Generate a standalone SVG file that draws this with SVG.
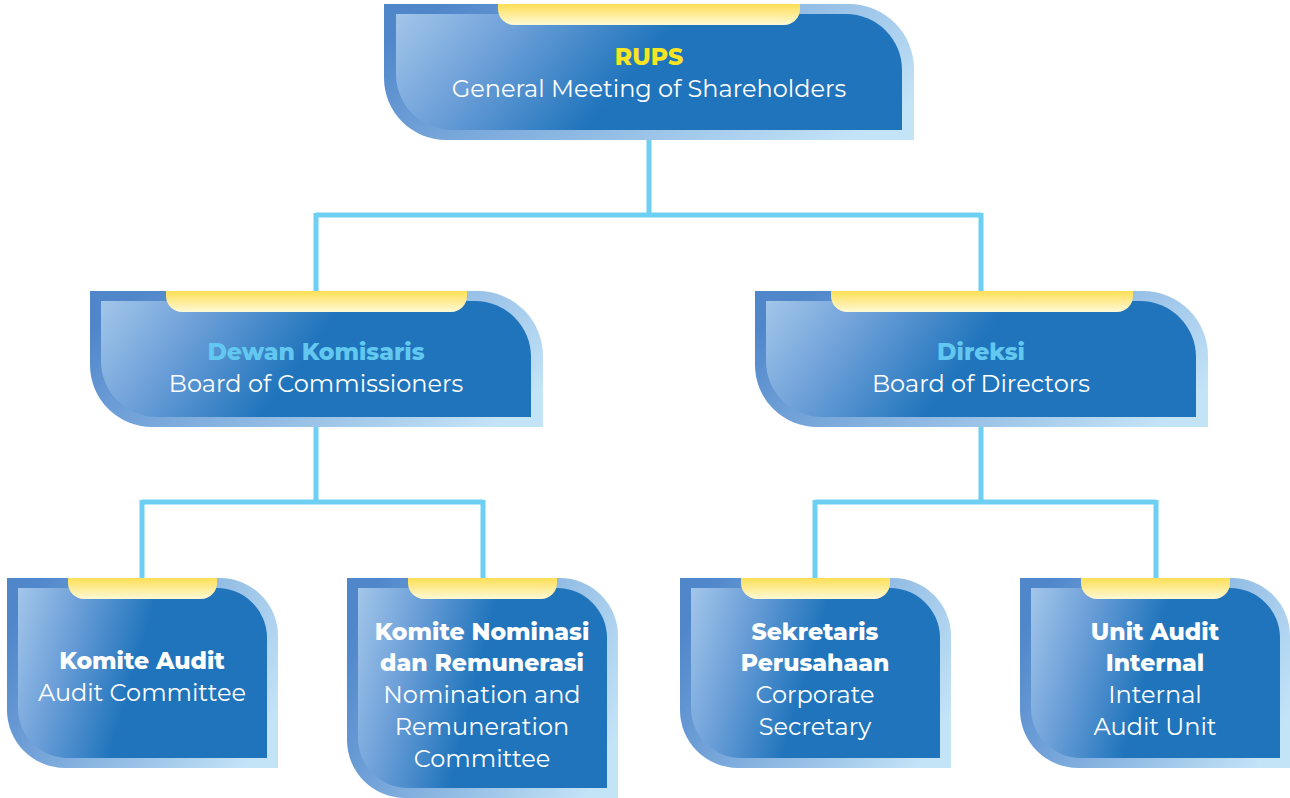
<svg xmlns="http://www.w3.org/2000/svg" width="1290" height="798" viewBox="0 0 1290 798">
<defs>
<linearGradient id="gOuter" x1="0" y1="0.3" x2="1" y2="0.7">
<stop offset="0" stop-color="#5087cb"/>
<stop offset="1" stop-color="#c3e3f7"/>
</linearGradient>
<linearGradient id="gInner" x1="0" y1="0" x2="1" y2="0.2">
<stop offset="0" stop-color="#a3c6ea"/>
<stop offset="0.25" stop-color="#6c9fd8"/>
<stop offset="0.55" stop-color="#1f74bc"/>
<stop offset="1" stop-color="#1f74bc"/>
</linearGradient>
<linearGradient id="gTab" x1="0" y1="0" x2="0" y2="1">
<stop offset="0" stop-color="#fddf55"/>
<stop offset="1" stop-color="#fef9d6"/>
</linearGradient>
</defs>
<style>
.outer{fill:url(#gOuter)}
.inner{fill:url(#gInner)}
.tab{fill:url(#gTab)}
.conn{fill:none;stroke:#6dd0f3;stroke-width:5}
text{font-family:Montserrat,"Noto Sans","Open Sans",sans-serif;text-anchor:middle;fill:#ffffff}
.t{font-weight:800;font-size:23.5px}
.s{font-weight:400;font-size:24px}
.y{fill:#f7e422}
.c{fill:#62c8f0}
</style>
<g id="connectors">
<path class="conn" d="M649,140 V215 M316,215 H981 M316,213 V291 M981,213 V291"/>
<path class="conn" d="M316,427 V502 M142,502 H483 M142,500 V578 M483,500 V578"/>
<path class="conn" d="M981,427 V502 M815,502 H1156 M815,500 V578 M1156,500 V578"/>
</g>
<g id="rups">
<path class="outer" d="M384,4 H849 A65,65 0 0 1 914,69 V140 H446 A62,62 0 0 1 384,78 Z"/>
<path class="inner" d="M396,14 H846 A56,56 0 0 1 902,70 V130 H452 A56,56 0 0 1 396,74 Z"/>
<path class="tab" d="M498,4 H800 V9 A16,16 0 0 1 784,25 H514 A16,16 0 0 1 498,9 Z"/>
<text class="t y" x="649" y="65">RUPS</text>
<text class="s" x="649" y="97">General Meeting of Shareholders</text>
</g>
<g id="dewan-komisaris">
<path class="outer" d="M90,291 H478 A65,65 0 0 1 543,356 V427 H152 A62,62 0 0 1 90,365 Z"/>
<path class="inner" d="M101,301 H475 A56,56 0 0 1 531,357 V417 H157 A56,56 0 0 1 101,361 Z"/>
<path class="tab" d="M166,291 H467 V296 A16,16 0 0 1 451,312 H182 A16,16 0 0 1 166,296 Z"/>
<text class="t c" x="316" y="360">Dewan Komisaris</text>
<text class="s" x="316" y="392">Board of Commissioners</text>
</g>
<g id="direksi">
<path class="outer" d="M755,291 H1143 A65,65 0 0 1 1208,356 V427 H817 A62,62 0 0 1 755,365 Z"/>
<path class="inner" d="M766,301 H1140 A56,56 0 0 1 1196,357 V417 H822 A56,56 0 0 1 766,361 Z"/>
<path class="tab" d="M831,291 H1133 V296 A16,16 0 0 1 1117,312 H847 A16,16 0 0 1 831,296 Z"/>
<text class="t c" x="981" y="360">Direksi</text>
<text class="s" x="981" y="392">Board of Directors</text>
</g>
<g id="komite-audit">
<path class="outer" d="M7,578 H220 A58,58 0 0 1 278,636 V768 H65 A58,58 0 0 1 7,710 Z"/>
<path class="inner" d="M18,588 H217 A50,50 0 0 1 267,638 V758 H68 A50,50 0 0 1 18,708 Z"/>
<path class="tab" d="M68,578 H217 V583 A16,16 0 0 1 201,599 H84 A16,16 0 0 1 68,583 Z"/>
<text class="t" x="142" y="669">Komite Audit</text>
<text class="s" x="142" y="701">Audit Committee</text>
</g>
<g id="komite-nominasi">
<path class="outer" d="M347,578 H560 A58,58 0 0 1 618,636 V798 H405 A58,58 0 0 1 347,740 Z"/>
<path class="inner" d="M358,588 H557 A50,50 0 0 1 607,638 V788 H408 A50,50 0 0 1 358,738 Z"/>
<path class="tab" d="M408,578 H557 V583 A16,16 0 0 1 541,599 H424 A16,16 0 0 1 408,583 Z"/>
<text class="t" x="482" y="640">Komite Nominasi</text>
<text class="t" x="482" y="671">dan Remunerasi</text>
<text class="s" x="482" y="703">Nomination and</text>
<text class="s" x="482" y="735">Remuneration</text>
<text class="s" x="482" y="767">Committee</text>
</g>
<g id="sekretaris">
<path class="outer" d="M680,578 H893 A58,58 0 0 1 951,636 V768 H738 A58,58 0 0 1 680,710 Z"/>
<path class="inner" d="M691,588 H890 A50,50 0 0 1 940,638 V758 H741 A50,50 0 0 1 691,708 Z"/>
<path class="tab" d="M741,578 H890 V583 A16,16 0 0 1 874,599 H757 A16,16 0 0 1 741,583 Z"/>
<text class="t" x="815" y="640">Sekretaris</text>
<text class="t" x="815" y="671">Perusahaan</text>
<text class="s" x="815" y="703">Corporate</text>
<text class="s" x="815" y="735">Secretary</text>
</g>
<g id="unit-audit">
<path class="outer" d="M1020,578 H1232 A58,58 0 0 1 1290,636 V768 H1078 A58,58 0 0 1 1020,710 Z"/>
<path class="inner" d="M1031,588 H1230 A50,50 0 0 1 1280,638 V758 H1081 A50,50 0 0 1 1031,708 Z"/>
<path class="tab" d="M1081,578 H1230 V583 A16,16 0 0 1 1214,599 H1097 A16,16 0 0 1 1081,583 Z"/>
<text class="t" x="1155" y="640">Unit Audit</text>
<text class="t" x="1155" y="671">Internal</text>
<text class="s" x="1155" y="703">Internal</text>
<text class="s" x="1155" y="735">Audit Unit</text>
</g>
</svg>
